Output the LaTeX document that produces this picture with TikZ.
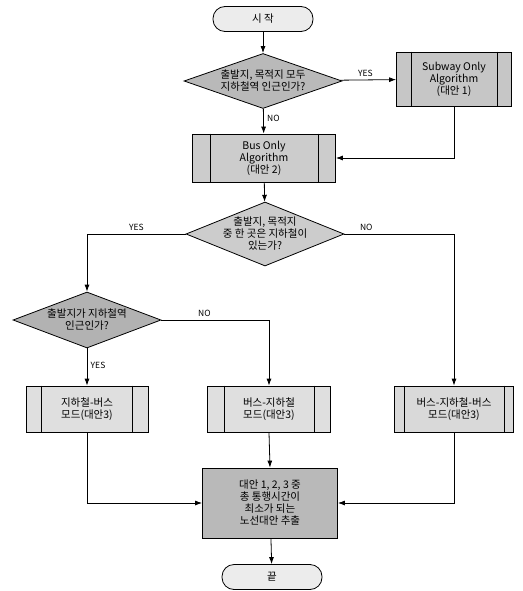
\documentclass[tikz,border=0pt]{standalone}
\usepackage{fontspec}
\setmainfont{Noto Sans CJK KR}
\usepackage{tikz}
\usetikzlibrary{arrows.meta,positioning,calc,shapes.geometric}

\begin{document}
\begin{tikzpicture}[
    x=1pt, y=-1pt,
    >={Latex[length=7pt,width=5pt]},
    font=\fontsize{10.5}{12}\selectfont,
    line width=0.8pt,
    terminal/.style={draw, rounded corners=12pt, fill=gray!15, minimum width=100pt, minimum height=25pt},
    decision/.style={draw, diamond, fill=gray!55, align=center, inner xsep=-40pt, inner ysep=-14pt, aspect=2.5},
    process/.style={draw, fill=gray!35, align=center, minimum height=46pt},
    answer/.style={font=\fontsize{8.5}{9}\selectfont}
]
\useasboundingbox (0,0) rectangle (522,591);
\node[terminal] (start) at (263,19) {시 작};
\node[decision, minimum width=158pt, minimum height=55pt] (both) at (263,81) {출발지, 목적지 모두\\지하철역 인근인가?};
\node[process, fill=gray!45, minimum width=115pt, minimum height=54pt] (sub) at (454,79) {Subway Only\\Algorithm\\(대안 1)};
\node[process, fill=gray!40, minimum width=143pt, minimum height=48pt] (bus) at (264,158) {Bus Only\\Algorithm\\(대안 2)};
\node[decision, fill=gray!40, minimum width=158pt, minimum height=64pt] (one) at (265,234) {출발지, 목적지\\중 한 곳은 지하철이\\있는가?};
\node[decision, fill=gray!60, minimum width=148pt, minimum height=56pt] (orig) at (87,320) {출발지가 지하철역\\인근인가?};
\node[process, fill=gray!25, minimum width=122pt] (sb) at (87,409) {지하철-버스\\모드(대안3)};
\node[process, fill=gray!25, minimum width=123pt] (bs) at (269,409) {버스-지하철\\모드(대안3)};
\node[process, fill=gray!30, minimum width=119pt] (bsb) at (454,409) {버스-지하철-버스\\모드(대안3)};
\node[draw, fill=gray!55, align=center, minimum width=135pt, minimum height=70pt] (best) at (270,503) {대안 1, 2, 3 중\\총 통행시간이\\최소가 되는\\노선대안 추출};
\node[terminal] (end) at (272,577) {끝};
% side bars of the process boxes
\foreach \n/\d in {sub/15, bus/18, sb/16, bs/17, bsb/10}
  \draw ([xshift=\d pt]\n.north west) -- ([xshift=\d pt]\n.south west)
        ([xshift=-\d pt]\n.north east) -- ([xshift=-\d pt]\n.south east);
\draw[->] (start) -- (both);
\draw[->] (both) -- node[answer, above, pos=0.45] {YES} (sub);
\draw[->] (both) -- node[answer, right, pos=0.4] {NO} (bus);
\draw[->] (sub.south) |- (bus.east);
\draw[->] (bus) -- (one);
\draw[->] (one.west) -| node[answer, above, pos=0.25] {YES} (orig.north);
\draw[->] (one.east) -| node[answer, above, pos=0.1] {NO} (bsb.north);
\draw[->] (orig.east) -| node[answer, above, pos=0.2] {NO} (bs.north);
\draw[->] (orig.south) -- node[answer, right, pos=0.45] {YES} (sb.north);
\draw[->] (sb.south) |- (best.west);
\draw[->] (bsb.south) |- (best.east);
\draw[->] (bs.south) -- (best.north);
\draw[->] (best) -- (end);
\end{tikzpicture}
\end{document}
